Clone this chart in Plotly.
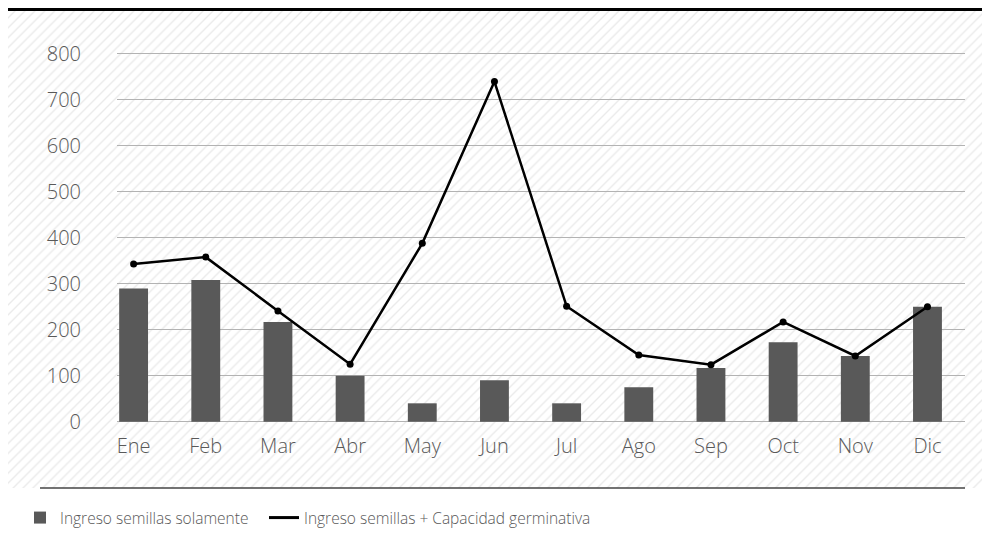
import plotly.graph_objects as go

months = ["Ene", "Feb", "Mar", "Abr", "May", "Jun", "Jul", "Ago", "Sep", "Oct", "Nov", "Dic"]
solo_semillas = [290, 308, 217, 100, 40, 90, 40, 75, 117, 173, 143, 250]
semillas_germ = [343, 358, 241, 125, 388, 740, 251, 145, 124, 217, 143, 250]
y_ticks = [0, 100, 200, 300, 400, 500, 600, 700, 800]

W, H = 990, 540
OFF = 8  # page offset of the figure inside the browser window
FONT = "Open Sans"
GRAY = "#595959"


def py(v):  # screen pixel (from top) -> paper y
    return 1 - (v - OFF) / H


def px(v):  # screen pixel (from left) -> paper x
    return (v - OFF) / W


fig = go.Figure()

# hatched background (decoration) on a full-figure helper axis (pixel units)
fig.add_trace(go.Scatter(
    x=[0, W, W, 0, 0], y=[H - 3, H - 3, H - 480, H - 480, H - 3],
    fill="toself", mode="none", fillcolor="white",
    fillpattern=dict(shape="/", fgcolor="#d6d6d6", bgcolor="white", size=7, solidity=0.2, fillmode="overlay"),
    hoverinfo="skip", showlegend=False, xaxis="x", yaxis="y",
))

fig.add_trace(go.Bar(
    x=months, y=solo_semillas, name="Ingreso semillas solamente",
    marker=dict(color=GRAY, line=dict(width=0)), width=0.4,
    xaxis="x2", yaxis="y2", legend="legend",
))
fig.add_trace(go.Scatter(
    x=months, y=semillas_germ, name="Ingreso semillas + Capacidad germinativa",
    mode="lines+markers", line=dict(color="black", width=2.5),
    marker=dict(color="black", size=7), showlegend=False,
    xaxis="x2", yaxis="y2",
))
# legend entry (line only)
fig.add_trace(go.Scatter(
    x=[None], y=[None], name="Ingreso semillas + Capacidad germinativa",
    mode="lines", line=dict(color="black", width=3),
    xaxis="x2", yaxis="y2", legend="legend2",
))

y0_px, ppu = 421.7, 0.4597
r_lo, r_hi = -3, 810
top_px = y0_px - (r_hi * ppu)
bot_px = y0_px - (r_lo * ppu)

tick_font = dict(family=FONT, size=20, color=GRAY, weight=300)
leg_font = dict(family=FONT, size=15.5, color=GRAY, weight=300)

fig.update_layout(
    width=W, height=H,
    margin=dict(l=0, r=0, t=0, b=0, pad=0, autoexpand=False),
    paper_bgcolor="white", plot_bgcolor="rgba(0,0,0,0)",
    font=dict(family=FONT, color=GRAY),
    xaxis=dict(domain=[0, 1], range=[0, W], visible=False, fixedrange=True),
    yaxis=dict(domain=[0, 1], range=[0, H], visible=False, fixedrange=True),
    xaxis2=dict(domain=[px(117), px(965)], anchor="y2", range=[-0.23, 11.52],
                type="category", showgrid=False, showline=False, zeroline=False,
                ticks="", ticklabelstandoff=9, tickfont=tick_font, automargin=False),
    yaxis2=dict(domain=[py(bot_px), py(top_px)], anchor="x2", range=[r_lo, r_hi],
                tickvals=y_ticks, showgrid=True, gridcolor="#b3b3b3", gridwidth=1,
                zeroline=False, showline=False, ticks="", ticklabelstandoff=35,
                tickfont=tick_font, automargin=False),
    legend=dict(orientation="h", x=px(20), xanchor="left", y=py(518), yanchor="middle",
                font=leg_font, bgcolor="rgba(0,0,0,0)", itemwidth=30),
    legend2=dict(orientation="h", x=px(264), xanchor="left", y=py(518), yanchor="middle",
                 font=leg_font, bgcolor="rgba(0,0,0,0)", itemwidth=30),
    shapes=[
        dict(type="line", xref="paper", yref="paper", x0=0, x1=1, y0=1 - 1.5 / H, y1=1 - 1.5 / H,
             line=dict(color="black", width=3)),
        dict(type="line", xref="paper", yref="paper", x0=px(40), x1=px(965), y0=py(488), y1=py(488),
             line=dict(color="#444444", width=1.5)),
    ],
    showlegend=True,
)

fig.write_html("out.html")
